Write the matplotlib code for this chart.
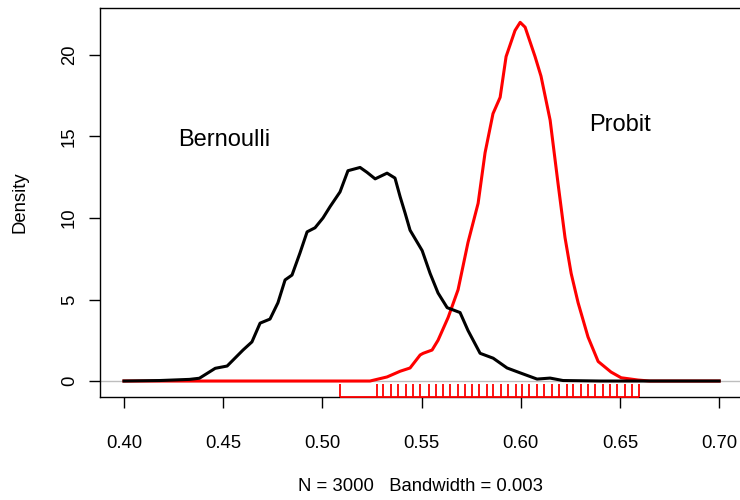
import matplotlib
matplotlib.use("Agg")
import matplotlib.pyplot as plt
import matplotlib.transforms as mtransforms

plt.rcParams["font.family"] = ["Liberation Sans", "DejaVu Sans"]

# Bernoulli posterior density (black)
bern_x = [0.400, 0.418, 0.433, 0.438, 0.446, 0.452, 0.460, 0.4645, 0.4686, 0.4736,
          0.4776, 0.4812, 0.4847, 0.4887, 0.4923, 0.4963, 0.5003, 0.5039, 0.5089,
          0.5129, 0.5190, 0.5225, 0.5266, 0.5326, 0.5366, 0.5392, 0.5417, 0.5442,
          0.5503, 0.5543, 0.5583, 0.5629, 0.5694, 0.5734, 0.5795, 0.5861, 0.5931,
          0.5997, 0.6082, 0.6148, 0.6213, 0.640, 0.700]
bern_y = [0.00, 0.03, 0.10, 0.17, 0.78, 0.92, 1.90, 2.40, 3.55, 3.80,
          4.80, 6.20, 6.50, 7.85, 9.15, 9.40, 10.00, 10.70, 11.60,
          12.90, 13.10, 12.80, 12.40, 12.75, 12.45, 11.30, 10.30, 9.25,
          8.00, 6.60, 5.40, 4.50, 4.20, 3.10, 1.70, 1.40, 0.80,
          0.50, 0.12, 0.18, 0.03, 0.00, 0.00]

# Probit posterior density (red)
probit_x = [0.400, 0.524, 0.5326, 0.5392, 0.5442, 0.5493, 0.5508, 0.5553, 0.5583,
            0.5634, 0.5684, 0.5734, 0.5785, 0.5820, 0.5860, 0.5896, 0.5926, 0.5971,
            0.5997, 0.6022, 0.6072, 0.6102, 0.6148, 0.6188, 0.6223, 0.6254, 0.6289,
            0.6339, 0.6390, 0.6455, 0.6506, 0.6591, 0.665, 0.700]
probit_y = [0.00, 0.00, 0.25, 0.60, 0.80, 1.60, 1.70, 1.90, 2.50,
            3.90, 5.60, 8.50, 10.90, 14.00, 16.40, 17.40, 19.90, 21.50,
            22.00, 21.70, 19.90, 18.70, 16.00, 12.10, 8.80, 6.60, 4.80,
            2.70, 1.20, 0.55, 0.20, 0.06, 0.00, 0.00]

# rug of probit draws
rug_x = [0.5089, 0.5274, 0.5307, 0.5346, 0.5383, 0.5422, 0.5459, 0.5492, 0.5538,
         0.5573, 0.5610, 0.5644, 0.5683, 0.5719, 0.5753, 0.5791, 0.5829, 0.5862,
         0.5899, 0.5938, 0.5975, 0.6008, 0.6044, 0.6081, 0.6119, 0.6156, 0.6195,
         0.6232, 0.6265, 0.6303, 0.6341, 0.6375, 0.6414, 0.6450, 0.6487, 0.6526,
         0.6560, 0.6598]

x_ticks = [0.40, 0.45, 0.50, 0.55, 0.60, 0.65, 0.70]
y_ticks = [0, 5, 10, 15, 20]

fig = plt.figure(figsize=(7.4, 5.0), dpi=100)
ax = fig.add_axes([0.1351, 0.206, 0.8665, 0.778])

ax.axhline(0, color="#bebebe", lw=1.0, zorder=1)
ax.plot(probit_x, probit_y, color="red", lw=2.2, zorder=2, solid_joinstyle="round")
ax.plot(bern_x, bern_y, color="black", lw=2.2, zorder=3, solid_joinstyle="round")

trans = mtransforms.blended_transform_factory(ax.transData, ax.transAxes)
ax.vlines(rug_x, 0, 0.034, color="red", lw=1.3, transform=trans, clip_on=False, zorder=4)
ax.hlines(0, min(rug_x), max(rug_x), color="red", lw=1.3, transform=trans,
          clip_on=False, zorder=5)

ax.text(0.4504, 14.8, "Bernoulli", fontsize=17, ha="center", va="center")
ax.text(0.650, 15.7, "Probit", fontsize=17, ha="center", va="center")

ax.set_xlim(0.3879, 0.7111)
ax.set_ylim(-0.98, 22.88)
ax.set_xticks(x_ticks)
ax.set_xticklabels([f"{v:.2f}" for v in x_ticks])
ax.set_yticks(y_ticks)
ax.set_yticklabels([str(v) for v in y_ticks], rotation=90, va="center")
ax.tick_params(axis="both", direction="out", length=8, width=1, labelsize=13.3)
ax.tick_params(axis="x", pad=19)
ax.tick_params(axis="y", pad=8)

ax.set_xlabel("N = 3000   Bandwidth = 0.003", fontsize=13.3, labelpad=19)
ax.set_ylabel("Density", fontsize=13.3, labelpad=23)

for s in ax.spines.values():
    s.set_linewidth(1.0)

fig.savefig("out.png", dpi=100)
